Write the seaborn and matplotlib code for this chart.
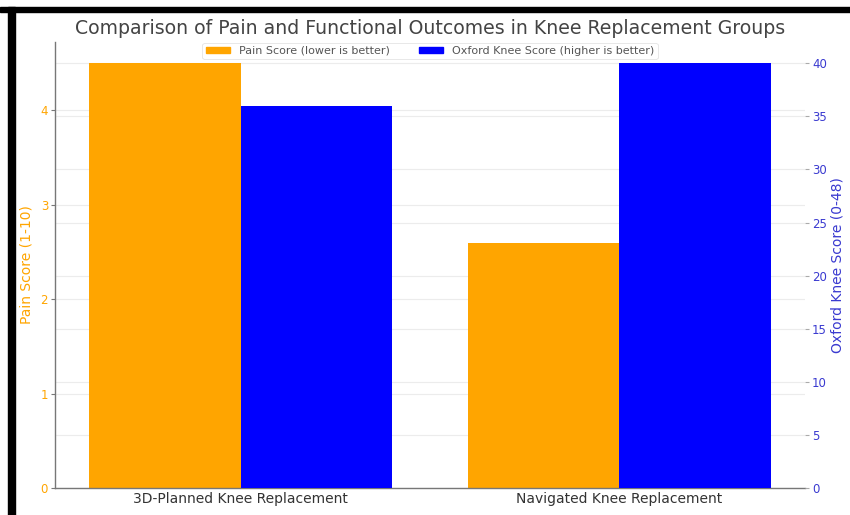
import matplotlib
matplotlib.use("Agg")
import matplotlib.pyplot as plt
from matplotlib.patches import Rectangle
from matplotlib.ticker import MultipleLocator, FixedLocator
import seaborn as sns
import pandas as pd

# Data
groups = ["3D-Planned Knee Replacement", "Navigated Knee Replacement"]
pain_scores = [4.5, 2.6]
oxford_scores = [36, 40]
pain_label = "Pain Score (lower is better)"
oxford_label = "Oxford Knee Score (higher is better)"

PAIN_COLOR = "orange"
OXFORD_COLOR = "blue"
OXFORD_TEXT = "#3a3ad0"

sns.set_theme(style="white")
plt.rcParams["font.family"] = ["DejaVu Sans"]

fig = plt.figure(figsize=(8.5, 5.15), dpi=100)
ax1 = fig.add_axes([55 / 850, 1 - 488 / 515, 750 / 850, 446 / 515])
ax2 = ax1.twinx()

pain_df = pd.DataFrame({"group": groups, "metric": pain_label, "value": pain_scores})
oxford_df = pd.DataFrame({"group": groups, "metric": oxford_label, "value": oxford_scores})
hue_order = [pain_label, oxford_label]
palette = {pain_label: PAIN_COLOR, oxford_label: OXFORD_COLOR}

sns.barplot(data=pain_df, x="group", y="value", hue="metric", hue_order=hue_order,
            palette=palette, saturation=1, width=0.8, order=groups, dodge=True,
            legend=False, ax=ax1, linewidth=0)
sns.barplot(data=oxford_df, x="group", y="value", hue="metric", hue_order=hue_order,
            palette=palette, saturation=1, width=0.8, order=groups, dodge=True,
            legend=False, ax=ax2, linewidth=0)

pain_top = max(pain_scores) * 1.05
oxford_top = max(oxford_scores) * 1.05
ax1.set_ylim(0, pain_top)
ax2.set_ylim(0, oxford_top)
ax1.set_xlim(-0.49, 1.49)

# Ticks
ax1.yaxis.set_major_locator(MultipleLocator(1))
ax2.yaxis.set_major_locator(MultipleLocator(5))
# Grid lines for the right-hand scale, drawn on the left axes so they stay behind all bars
ox_ticks = [t for t in range(0, 41, 5)]
ax1.yaxis.set_minor_locator(FixedLocator([t * pain_top / oxford_top for t in ox_ticks]))
ax1.set_axisbelow(True)
ax1.grid(True, axis="y", which="both", color="#ececec", linewidth=0.8)
ax1.grid(False, axis="x")
ax2.grid(False)
ax1.tick_params(axis="y", which="minor", length=0)

ax1.tick_params(axis="y", colors="#777777", labelcolor=PAIN_COLOR, labelsize=8.5,
                length=3, width=0.8, left=True, direction="out", pad=2)
ax2.tick_params(axis="y", colors="#aaaaaa", labelcolor=OXFORD_TEXT, labelsize=8.5,
                length=3, width=0.8, right=True, direction="out", pad=2)
ax1.tick_params(axis="x", labelsize=10, labelcolor="#333333", length=0, pad=3)

ax1.set_xlabel("")
ax1.set_ylabel("Pain Score (1-10)", color=PAIN_COLOR, fontsize=10, labelpad=5)
ax2.set_ylabel("Oxford Knee Score (0-48)", color=OXFORD_TEXT, fontsize=10, labelpad=3)

for ax in (ax1, ax2):
    ax.spines["top"].set_visible(False)
    ax.spines["right"].set_visible(False)
ax2.spines["left"].set_visible(False)
ax2.spines["bottom"].set_visible(False)
ax1.spines["left"].set_color("#777777")
ax1.spines["bottom"].set_color("#777777")
ax1.spines["left"].set_linewidth(1.0)
ax1.spines["bottom"].set_linewidth(1.0)

ax1.set_title("Comparison of Pain and Functional Outcomes in Knee Replacement Groups",
              fontsize=13.6, color="#444444", pad=6)

handles = [Rectangle((0, 0), 1, 1, color=PAIN_COLOR), Rectangle((0, 0), 1, 1, color=OXFORD_COLOR)]
leg = ax2.legend(handles, [pain_label, oxford_label], loc="upper center", ncol=2,
                 fontsize=8, frameon=True, borderaxespad=0.05, handlelength=2.2,
                 handleheight=0.5, columnspacing=2.6, borderpad=0.3)
leg.get_frame().set_edgecolor("#dddddd")
leg.get_frame().set_linewidth(0.6)
for t in leg.get_texts():
    t.set_color("#555555")

# Dark frame along the top and left edges
fig.patches.append(Rectangle((0, 1 - 12 / 515), 1, 5 / 515, transform=fig.transFigure,
                             color="black", zorder=10))
fig.patches.append(Rectangle((8 / 850, 0), 7 / 850, 1 - 7 / 515, transform=fig.transFigure,
                             color="black", zorder=10))

fig.savefig("out.png", dpi=100)
